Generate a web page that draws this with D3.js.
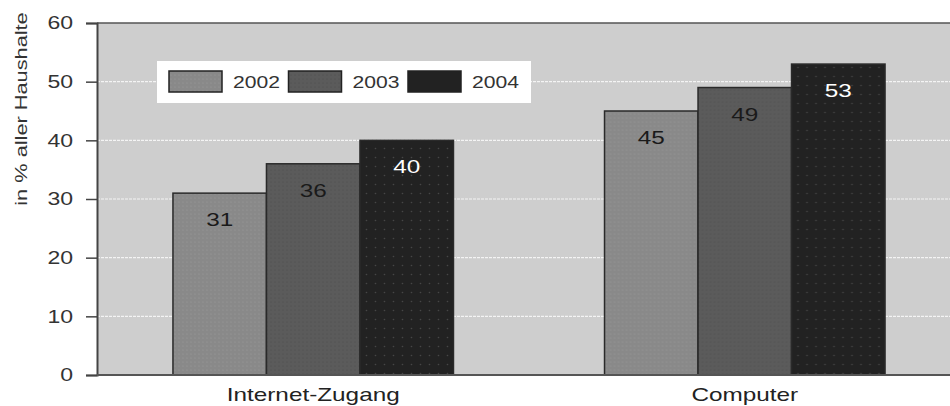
<!DOCTYPE html>
<html>
<head>
<meta charset="utf-8">
<script src="https://cdn.jsdelivr.net/npm/d3@7"></script>
<style>
  html, body { margin: 0; padding: 0; background: #fff; }
  svg { display: block; font-family: "Liberation Sans", Arial, sans-serif; }
</style>
</head>
<body>
<svg id="chart" width="950" height="406"></svg>
<script>
// Haushalte mit Internet-Zugang / Computer, 2002–2004
var categories = ["Internet-Zugang", "Computer"];
var years = ["2002", "2003", "2004"];
var values2002 = [31, 45];
var values2003 = [36, 49];
var values2004 = [40, 53];
var yTicks = [0, 10, 20, 30, 40, 50, 60];
var yTitle = "in % aller Haushalte";

var W = 950, H = 406, M = { t: 23, r: -11, b: 31, l: 97 };
var K = 1.28; // the original's lettering is drawn wide
var fills = { "2002": "#898989", "2003": "#5b5b5b", "2004": "#222222" };
var dotCol = { "2002": "#9c9c9c", "2003": "#4a4a4a", "2004": "#474747" };
var labelCol = { "2002": "#1a1a1a", "2003": "#1a1a1a", "2004": "#ffffff" };

var svg = d3.select("#chart");
var series = { "2002": values2002, "2003": values2003, "2004": values2004 };
var rows = categories.map(function (c, i) {
  return { cat: c, vals: years.map(function (y) { return { year: y, v: series[y][i] }; }) };
});

// wide text placed at (x, y)
function wideText(parent, x, y, str, size, anchor, fill) {
  return parent.append("text").attr("transform", "translate(" + x + "," + y + ") scale(" + K + ",1)")
    .attr("text-anchor", anchor).attr("font-size", size).attr("fill", fill).text(str);
}

// dotted textures like the printed original
var defs = svg.append("defs");
years.forEach(function (y) {
  var step = y === "2004" ? 9 : 4;
  var p = defs.append("pattern").attr("id", "pat" + y).attr("patternUnits", "userSpaceOnUse")
    .attr("width", step).attr("height", step);
  p.append("rect").attr("width", step).attr("height", step).attr("fill", fills[y]);
  p.append("circle").attr("cx", step / 2).attr("cy", step / 2).attr("r", y === "2004" ? 0.8 : 0.6).attr("fill", dotCol[y]);
});

var x0 = d3.scaleBand().domain(categories).range([M.l, W - M.r]).paddingInner(0.35).paddingOuter(0.176);
var x1 = d3.scaleBand().domain(years).range([0, x0.bandwidth()]);
var y = d3.scaleLinear().domain([0, 60]).range([H - M.b, M.t]);

// plot background
svg.append("rect").attr("x", M.l).attr("y", M.t).attr("width", W - M.l).attr("height", y(0) - M.t).attr("fill", "#cecece");

// dashed white grid
svg.append("g").selectAll("line").data(yTicks.filter(function (d) { return d > 0 && d < 60; })).enter().append("line")
  .attr("x1", M.l).attr("x2", W).attr("y1", function (d) { return y(d); }).attr("y2", function (d) { return y(d); })
  .attr("stroke", "#f4f4f4").attr("stroke-width", 1.2).attr("stroke-dasharray", "3,1");

// top border
svg.append("line").attr("x1", M.l).attr("x2", W).attr("y1", y(60)).attr("y2", y(60)).attr("stroke", "#555").attr("stroke-width", 1.5);

// bars
var g = svg.append("g").selectAll("g").data(rows).enter().append("g")
  .attr("transform", function (d) { return "translate(" + x0(d.cat) + ",0)"; });
g.selectAll("rect").data(function (d) { return d.vals; }).enter().append("rect")
  .attr("x", function (d) { return x1(d.year); })
  .attr("y", function (d) { return y(d.v); })
  .attr("width", x1.bandwidth())
  .attr("height", function (d) { return y(0) - y(d.v); })
  .attr("fill", function (d) { return "url(#pat" + d.year + ")"; })
  .attr("stroke", "#2a2a2a").attr("stroke-width", 1.5);
g.each(function (row) {
  var gg = d3.select(this);
  row.vals.forEach(function (d) {
    wideText(gg, x1(d.year) + x1.bandwidth() / 2, y(d.v) + 33, d.v, 19, "middle", labelCol[d.year]);
  });
});

// y axis
var ya = svg.append("g").attr("transform", "translate(" + M.l + ",0)")
  .call(d3.axisLeft(y).tickValues(yTicks).tickSize(11).tickPadding(13));
ya.selectAll("text").attr("font-size", 18).attr("fill", "#333").attr("font-family", "Liberation Sans, Arial, sans-serif")
  .attr("x", -24 / K).attr("transform", "scale(" + K + ",1)");
ya.selectAll("line").attr("stroke", "#444").attr("stroke-width", 1.5);
ya.select(".domain").attr("stroke", "#444").attr("stroke-width", 2);

// x axis line + labels
svg.append("line").attr("x1", M.l).attr("x2", W).attr("y1", y(0)).attr("y2", y(0)).attr("stroke", "#555").attr("stroke-width", 2);
var xl = svg.append("g");
categories.forEach(function (c) {
  wideText(xl, x0(c) + x0.bandwidth() / 2, y(0) + 26, c, 19, "middle", "#222");
});

// y title (wide along its own length)
svg.append("text").attr("transform", "translate(27,109) rotate(-90) scale(" + K + ",1)")
  .attr("text-anchor", "middle").attr("font-size", 17).attr("fill", "#333").text(yTitle);

// legend
var lg = svg.append("g").attr("transform", "translate(157,61)");
lg.append("rect").attr("width", 374).attr("height", 42).attr("fill", "#fff");
years.forEach(function (yr, i) {
  var ox = 12 + i * 119.5;
  lg.append("rect").attr("x", ox).attr("y", 10).attr("width", 53).attr("height", 21)
    .attr("fill", i === 2 ? fills[yr] : "url(#pat" + yr + ")").attr("stroke", "#222").attr("stroke-width", 1.5);
  wideText(lg, ox + 64, 27, yr, 16.5, "start", "#333");
});
</script>
</body>
</html>
